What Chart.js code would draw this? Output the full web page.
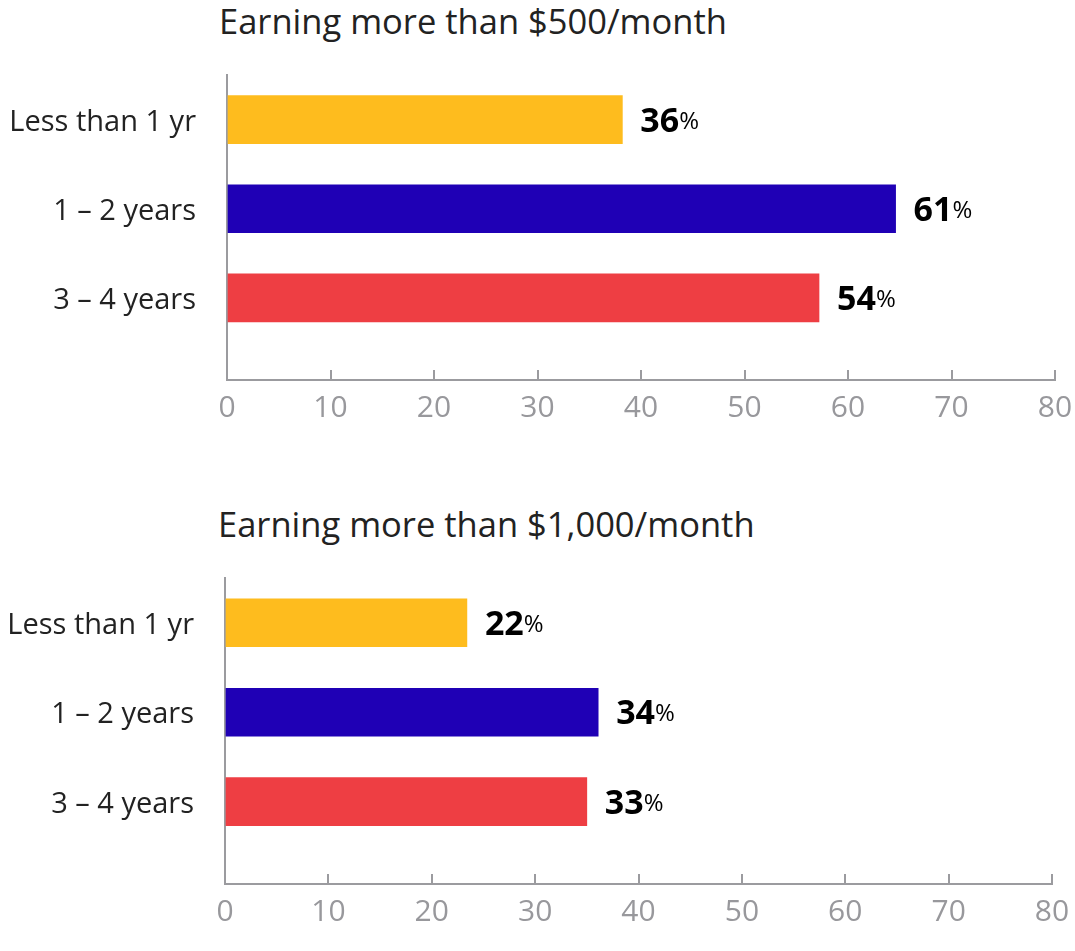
<!DOCTYPE html>
<html>
<head>
<meta charset="utf-8">
<script src="https://cdn.jsdelivr.net/npm/chart.js@4.4.1/dist/chart.umd.min.js"></script>
<style>
  html, body { margin: 0; padding: 0; background: #fff; }
  body { width: 1075px; height: 951px; position: relative; overflow: hidden; font-family: "Open Sans", sans-serif; }
  .title { position: absolute; font-size: 34.5px; line-height: 34px; color: #222; white-space: nowrap; }
  .box { position: absolute; left: 0; width: 1075px; height: 448px; }
</style>
</head>
<body>
<div class="title" style="top:4px; left:219px">Earning more than $500/month</div>
<div class="box" style="top:0"><canvas id="chart500"></canvas></div>
<div class="title" style="top:507px; left:218px">Earning more than $1,000/month</div>
<div class="box" style="top:503px"><canvas id="chart1000"></canvas></div>
<script>
// categories and values (bar lengths; labels as printed)
const categories = ["Less than 1 yr", "1 – 2 years", "3 – 4 years"];
const barColors = ["#FEBC1E", "#1F00B5", "#EE3E43"];

const bars500 = [38.2, 64.6, 57.2];
const labels500 = [36, 61, 54];

const bars1000 = [23.4, 36.1, 35.0];
const labels1000 = [22, 34, 33];

const xTicks = [0, 10, 20, 30, 40, 50, 60, 70, 80];

const axisGray = "#9b9b9f";
const textDark = "#222222";
const fontName = "Open Sans";

const valueLabels = {
  id: "valueLabels",
  afterDatasetsDraw(chart, args, opts) {
    const ctx = chart.ctx;
    const meta = chart.getDatasetMeta(0);
    ctx.save();
    meta.data.forEach((bar, i) => {
      const num = String(opts.values[i]);
      const x = bar.x + 18;
      const base = bar.y + 12;
      ctx.fillStyle = "#000";
      ctx.textAlign = "left";
      ctx.textBaseline = "alphabetic";
      ctx.font = "bold 34px '" + fontName + "'";
      ctx.fillText(num, x, base);
      const w = ctx.measureText(num).width;
      ctx.font = "24px '" + fontName + "'";
      ctx.fillText("%", x + w, base - 3);
    });
    ctx.restore();
  }
};

function makeChart(id, barValues, labelValues, leftEdge, rightPad, axisHeight) {
  const ctx = document.getElementById(id).getContext("2d");
  return new Chart(ctx, {
    type: "bar",
    data: {
      datasets: [{
        data: barValues.map((v, i) => ({ x: v, y: i })),
        backgroundColor: barColors,
        barThickness: 48
      }]
    },
    options: {
      indexAxis: "y",
      responsive: true,
      maintainAspectRatio: false,
      animation: false,
      layout: { padding: { top: 75, right: rightPad, left: 0, bottom: 0 } },
      plugins: {
        legend: { display: false },
        tooltip: { enabled: false },
        valueLabels: { values: labelValues }
      },
      scales: {
        x: {
          type: "linear",
          min: xTicks[0],
          max: xTicks[xTicks.length - 1],
          afterBuildTicks: scale => { scale.ticks = xTicks.map(v => ({ value: v })); },
          afterFit: scale => {
            scale.height = axisHeight;
            scale.paddingLeft = 0;
            scale.paddingRight = 0;
          },
          grid: {
            display: true,
            drawOnChartArea: false,
            drawTicks: true,
            tickLength: -10,
            color: axisGray,
            lineWidth: 2
          },
          border: { display: true, color: axisGray, width: 2 },
          ticks: {
            color: "#98989c",
            font: { family: fontName, size: 30 },
            padding: 20,
            maxRotation: 0
          }
        },
        y: {
          type: "linear",
          offset: false,
          reverse: true,
          min: -0.5,
          max: 2.92,
          afterBuildTicks: scale => { scale.ticks = categories.map((c, i) => ({ value: i })); },
          afterFit: scale => {
            scale.width = leftEdge;
            scale.paddingTop = 0;
            scale.paddingBottom = 0;
          },
          grid: { display: false, drawTicks: false },
          border: { display: true, color: axisGray, width: 2 },
          ticks: {
            color: textDark,
            font: { family: fontName, size: 29 },
            padding: 31,
            labelOffset: 3,
            callback: v => categories[v] ?? ""
          }
        }
      }
    },
    plugins: [valueLabels]
  });
}

makeChart("chart500", bars500, labels500, 227, 20, 68);
makeChart("chart1000", bars1000, labels1000, 225, 23, 67);
</script>
</body>
</html>
